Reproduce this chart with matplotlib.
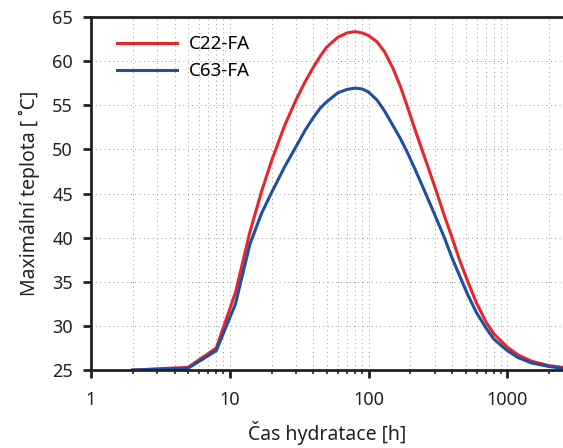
import matplotlib
matplotlib.use("Agg")
import matplotlib.pyplot as plt
from matplotlib.ticker import FixedLocator, LogLocator, NullFormatter

plt.rcParams['font.family'] = ['Noto Sans', 'DejaVu Sans']

# data
t = [2, 5, 8, 11, 14, 17, 20, 25, 30, 35, 40, 45, 50, 60, 70, 80, 90, 100,
     115, 130, 150, 170, 190, 220, 250, 300, 350, 400, 450, 520, 600, 700,
     800, 1000, 1200, 1500, 2000, 2500]
c22 = [25.0, 25.3, 27.5, 33.8, 40.7, 45.3, 48.7, 52.8, 55.6, 57.7, 59.3, 60.6,
       61.6, 62.7, 63.2, 63.35, 63.2, 62.9, 62.2, 61.1, 59.2, 57.1, 54.9, 51.9,
       49.4, 45.8, 42.6, 40.0, 37.6, 35.0, 32.6, 30.5, 29.1, 27.6, 26.7, 26.0,
       25.5, 25.3]
c63 = [25.0, 25.2, 27.2, 32.5, 39.3, 42.8, 45.1, 48.1, 50.3, 52.2, 53.6, 54.7,
       55.4, 56.4, 56.8, 56.95, 56.85, 56.5, 55.6, 54.4, 52.7, 51.2, 49.7, 47.5,
       45.5, 42.6, 40.1, 37.7, 35.8, 33.5, 31.5, 29.8, 28.5, 27.2, 26.4, 25.8,
       25.4, 25.2]
labels = ["C22-FA", "C63-FA"]
x_ticks = [1, 10, 100, 1000]
y_ticks = [25, 30, 35, 40, 45, 50, 55, 60, 65]

fig = plt.figure(figsize=(5.63, 4.48), dpi=100)
ax = fig.add_axes([0.1616, 0.174, 0.8384, 0.788])

ax.plot(t, c22, color='#e8262b', lw=2.2, label=labels[0])
ax.plot(t, c63, color='#1f4f9f', lw=2.2, label=labels[1])

ax.set_xscale('log')
ax.set_xlim(1, 2520)
ax.set_ylim(25, 65)
ax.xaxis.set_major_locator(FixedLocator(x_ticks))
ax.set_xticklabels([str(v) for v in x_ticks])
ax.xaxis.set_minor_locator(LogLocator(base=10, subs=range(2, 10)))
ax.xaxis.set_minor_formatter(NullFormatter())
ax.set_yticks(y_ticks)

ax.grid(True, which='both', axis='x', color='#999999', lw=0.7, ls=(0, (1, 3.5)))
ax.grid(True, which='major', axis='y', color='#999999', lw=0.7, ls=(0, (1, 3.5)))

for s in ['left', 'top', 'bottom']:
    ax.spines[s].set_linewidth(2.0)
    ax.spines[s].set_color('#222222')
ax.spines['right'].set_visible(False)

ax.tick_params(which='major', direction='out', length=6, width=2, labelsize=13,
               colors='#222222', pad=7)
ax.tick_params(which='minor', direction='out', length=3, width=1.2, colors='#222222')
ax.tick_params(axis='x', which='major', pad=9)

ax.set_xlabel("Čas hydratace [h]", fontsize=14, color='#222222', labelpad=9)
ax.set_ylabel("Maximální teplota [ ˚C]", fontsize=14, color='#222222', labelpad=9)

ax.legend(loc='upper left', frameon=False, fontsize=13.5, handlelength=3.2,
          handletextpad=0.65, labelspacing=0.5, bbox_to_anchor=(0.039, 0.97),
          borderaxespad=0)

fig.savefig("out.png", dpi=100)
